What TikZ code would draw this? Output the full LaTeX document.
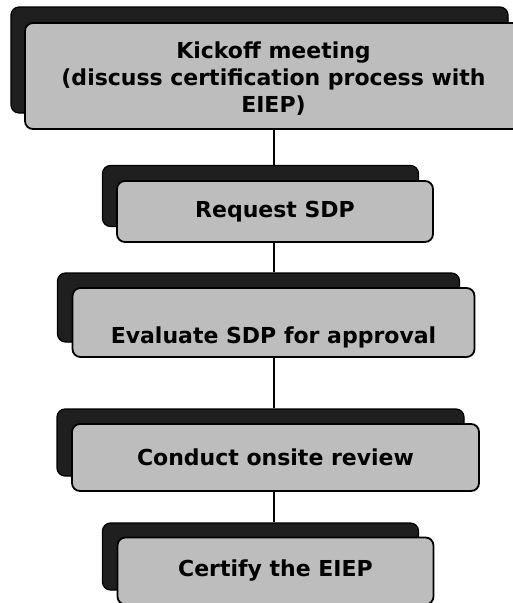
\documentclass[tikz,border=0pt]{standalone}
\usepackage{fontspec}
\setmainfont{DejaVu Sans}
\usepackage{tikz}
\usetikzlibrary{calc}

\tikzset{
  card/.style={draw=black, line width=1.8pt, rounded corners=8pt, fill=black!26,
    inner sep=0pt, align=center, font=\stagefont},
  cardback/.style={draw=black, line width=1.2pt, rounded corners=8pt, fill=black!88,
    inner sep=0pt},
  link/.style={draw=black, line width=2pt}
}
\newcommand{\stagefont}{\bfseries\fontsize{22}{27}\selectfont}

\begin{document}
\begin{tikzpicture}[x=1pt,y=-1pt]
    \clip (0,0) rectangle (513,603);
    \fill[white] (0,0) rectangle (513,603);
    % Kickoff
    \node[cardback, minimum width=497pt, minimum height=106pt] (kick-bk) at (259.5,60) {};
    \node[card, minimum width=497pt, minimum height=106pt,
          text height=72pt, text depth=0pt] (kick) at (273.5,76)
        {Kickoff meeting\\(discuss certification process with\\EIEP)};
    % Request SDP
    \node[cardback, minimum width=316pt, minimum height=61pt] (req-bk) at (260.5,196) {};
    \node[card, minimum width=316pt, minimum height=61pt] (req) at (275,211.5) {Request SDP};
    % Evaluate SDP
    \node[cardback, minimum width=402pt, minimum height=69pt] (eval-bk) at (258.5,307.5) {};
    \node[card, minimum width=402pt, minimum height=69pt,
          text height=41pt, text depth=0pt] (eval) at (273.5,322.5) {Evaluate SDP for approval};
    % Onsite review
    \node[cardback, minimum width=407pt, minimum height=67pt] (rev-bk) at (260.5,442.5) {};
    \node[card, minimum width=407pt, minimum height=67pt] (rev) at (275.5,457.5) {Conduct onsite review};
    % Certify
    \node[cardback, minimum width=316pt, minimum height=67pt] (cert-bk) at (260.5,556.5) {};
    \node[card, minimum width=316pt, minimum height=67pt] (cert) at (275.5,571) {Certify the EIEP};
    % Links
    \draw[link] (kick.south) -- (kick.south |- req-bk.north);
    \draw[link] (req.south -| kick.south) -- (kick.south |- eval-bk.north);
    \draw[link] (eval.south -| kick.south) -- (kick.south |- rev-bk.north);
    \draw[link] (rev.south -| kick.south) -- (kick.south |- cert-bk.north);
\end{tikzpicture}
\end{document}
